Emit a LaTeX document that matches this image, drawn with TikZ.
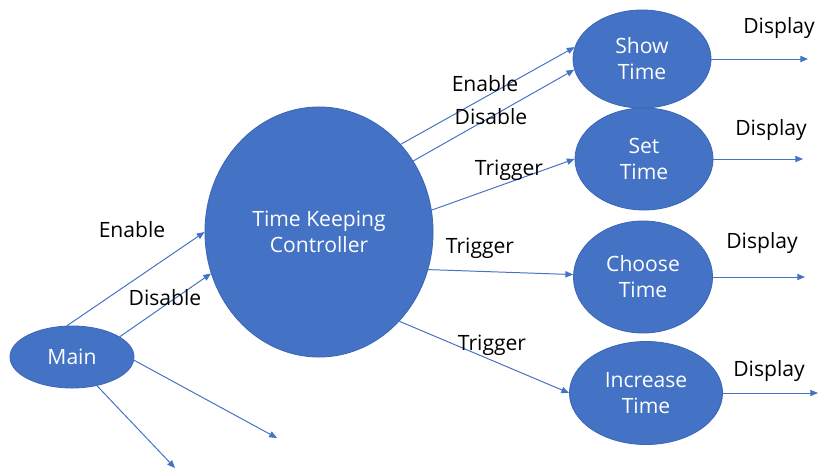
\documentclass[tikz,border=0pt]{standalone}
\usepackage{fontspec}
\setmainfont{Open Sans}
\usetikzlibrary{arrows.meta,shapes.geometric}
\definecolor{ovalblue}{HTML}{4472C4}
\definecolor{ovalline}{HTML}{3B67B8}
\tikzset{
	oval/.style={ellipse, fill=ovalblue, draw=ovalline, line width=0.6pt, text=white, inner sep=0pt, align=center, font=\fontsize{15}{18.5}\selectfont},
	flow/.style={draw=ovalblue, line width=0.7pt, -{Triangle[length=5.5pt,width=4.5pt]}},
	tag/.style={text=black, inner sep=0pt, font=\fontsize{15}{18.5}\selectfont}
}

\begin{document}
\begin{tikzpicture}[x=0.025cm, y=-0.025cm]
			%%%%% START %%%%%
			
			\useasboundingbox (0, 0) rectangle (819, 472);
			
			\node[oval, minimum width=3.1cm, minimum height=1.55cm] (main) at (72, 357) {Main};
			\node[oval, minimum width=5.7cm, minimum height=6.25cm] (keeper) at (319, 232) {Time Keeping\\Controller};
			\node[oval, minimum width=3.45cm, minimum height=2.45cm] (show) at (642, 59) {Show\\Time};
			\node[oval, minimum width=3.45cm, minimum height=2.55cm] (set) at (644, 159) {Set\\Time};
			\node[oval, minimum width=3.475cm, minimum height=2.8cm] (choose) at (643, 277) {Choose\\Time};
			\node[oval, minimum width=3.825cm, minimum height=2.575cm] (increase) at (646, 393) {Increase\\Time};
			
			\coordinate (mainout1) at (277, 438);
			\coordinate (mainout2) at (175, 468);
			\coordinate (showout) at (808, 59);
			\coordinate (setout) at (803, 159);
			\coordinate (chooseout) at (805, 277);
			\coordinate (increaseout) at (818, 393);
			
			\draw[flow] (main.99) -- (keeper.180);
			\draw[flow] (main.23) -- (keeper.201);
			\draw[flow] (main.-3) -- (mainout1);
			\draw[flow] (main.-49) -- (mainout2);
			
			\draw[flow] (keeper.47) -- (show.170);
			\draw[flow] (keeper.37) -- (show.189);
			\draw[flow] (keeper.11.5) -- (set.west);
			\draw[flow] (keeper.-19) -- (choose.178);
			\draw[flow] (keeper.-48.5) -- (increase.west);
			
			\draw[flow] (show.east) -- (showout);
			\draw[flow] (set.east) -- (setout);
			\draw[flow] (choose.east) -- (chooseout);
			\draw[flow] (increase.east) -- (increaseout);
			
			\node[tag] (enableA) at (132, 230) {Enable};
			\node[tag] (disableA) at (165, 298) {Disable};
			\node[tag] (enableB) at (485, 84) {Enable};
			\node[tag] (disableB) at (491, 117) {Disable};
			\node[tag] (triggerA) at (509, 170) {Trigger};
			\node[tag] (triggerB) at (480, 248) {Trigger};
			\node[tag] (triggerC) at (492, 345) {Trigger};
			\node[tag] (displayA) at (779, 28) {Display};
			\node[tag] (displayB) at (771, 130) {Display};
			\node[tag] (displayC) at (762, 243) {Display};
			\node[tag] (displayD) at (769, 371) {Display};
			
			%%%%% END %%%%%
\end{tikzpicture}
\end{document}
